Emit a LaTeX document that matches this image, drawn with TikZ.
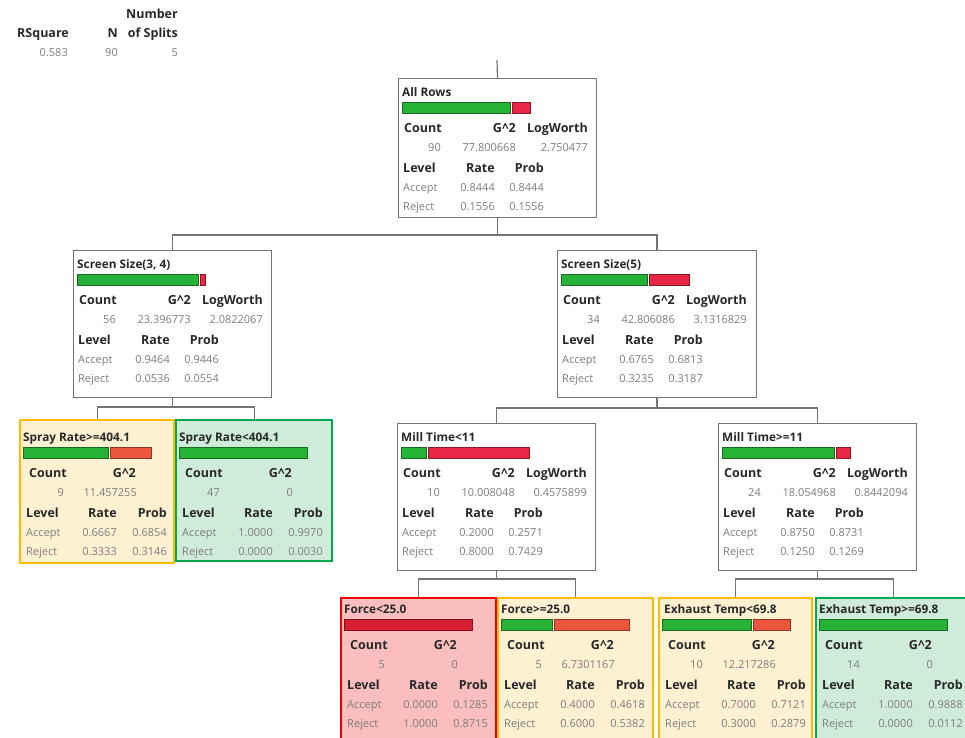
\documentclass[tikz,border=0pt]{standalone}
\usepackage{fontspec}
\setmainfont{Open Sans}

\definecolor{barGreen}{RGB}{38,178,52}
\definecolor{barRed}{RGB}{232,38,70}
\definecolor{barTomato}{RGB}{236,86,60}
\definecolor{barDeepRed}{RGB}{218,30,52}
\definecolor{headInk}{RGB}{40,40,40}
\definecolor{valInk}{RGB}{125,125,125}
\definecolor{treeGray}{RGB}{115,115,115}
\definecolor{warnEdge}{RGB}{255,186,0}
\definecolor{warnFill}{RGB}{253,241,210}
\definecolor{goodEdge}{RGB}{0,170,78}
\definecolor{goodFill}{RGB}{207,236,219}
\definecolor{badEdge}{RGB}{238,0,0}
\definecolor{badFill}{RGB}{250,190,190}

\tikzset{
  splitbox/.style={draw=treeGray, fill=white, line width=1pt, inner sep=0pt, anchor=north west},
  leafwarn/.style={splitbox, draw=warnEdge, fill=warnFill, line width=2.2pt},
  leafgood/.style={splitbox, draw=goodEdge, fill=goodFill, line width=2.2pt},
  leafbad/.style={splitbox, draw=badEdge, fill=badFill, line width=2.2pt},
  title/.style={font=\bfseries\fontsize{11.8}{13}\selectfont, text=headInk, inner sep=0pt, anchor=base west},
  head/.style={font=\bfseries\fontsize{12.5}{14}\selectfont, text=headInk, inner sep=0pt},
  val/.style={font=\fontsize{11}{13}\selectfont, text=valInk, inner sep=0pt},
  branch/.style={draw=treeGray, line width=1.2pt},
}

% bar of the accept/reject split: [red colour]{green share}
\newcommand{\splitbar}[2][barRed]{%
  \pgfmathsetmacro{\greenw}{128*#2}%
  \pgfmathsetmacro{\redx}{#2>0 ? 4+\greenw+2 : 4}%
  \ifdim #2pt>0pt \filldraw[fill=barGreen, draw=barGreen!60!black, line width=0.6pt] (4,24) rectangle ({4+\greenw},35);\fi
  \ifdim #2pt<1pt \filldraw[fill=#1, draw=#1!60!black, line width=0.6pt] (\redx,24) rectangle (132,35);\fi
}

% level rows: level x, rate x, prob x, then the four values
\newcommand{\levelrows}[7]{%
  \node[head, anchor=base west] at (#1,94) {Level};
  \node[head, anchor=base east] at (#2,94) {Rate};
  \node[head, anchor=base east] at (#3,94) {Prob};
  \node[val, anchor=base west] at (#1,113) {Accept};
  \node[val, anchor=base east] at (#2,113) {#4};
  \node[val, anchor=base east] at (#3,113) {#5};
  \node[val, anchor=base west] at (#1,132) {Reject};
  \node[val, anchor=base east] at (#2,132) {#6};
  \node[val, anchor=base east] at (#3,132) {#7};
}

\newcommand{\splitrows}[7]{%
  \node[head, anchor=base west] at (6,54) {Count};
  \node[head, anchor=base east] at (118,54) {G\textasciicircum 2};
  \node[head, anchor=base east] at (190,54) {LogWorth};
  \node[val, anchor=base east] at (43,73) {#1};
  \node[val, anchor=base east] at (118,73) {#2};
  \node[val, anchor=base east] at (190,73) {#3};
  \levelrows{5}{97}{146}{#4}{#5}{#6}{#7}
}

\newcommand{\leafrows}[6]{%
  \node[head, anchor=base west] at (10,54) {Count};
  \node[head, anchor=base east] at (117,54) {G\textasciicircum 2};
  \node[val, anchor=base east] at (45,73) {#1};
  \node[val, anchor=base east] at (118,73) {#2};
  \levelrows{7}{98}{148}{#3}{#4}{#5}{#6}
}

\begin{document}
\begin{tikzpicture}[x=1pt, y=-1pt]
    \useasboundingbox (0,0) rectangle (965,737);

    % summary of the fit
    \node[head, anchor=base west] (rsqlabel) at (17,37) {RSquare};
    \node[head, anchor=base east] (nlabel) at (118,37) {N};
    \node[head, anchor=base east] (splitlabel) at (178,18) {Number};
    \node[head, anchor=base east] (splitlabelb) at (178,37) {of Splits};
    \node[val, anchor=base east] (rsqval) at (68,56) {0.583};
    \node[val, anchor=base east] (nval) at (118,56) {90};
    \node[val, anchor=base east] (splitval) at (178,56) {5};

    % split boxes
    \node[splitbox, minimum width=198pt, minimum height=139pt] (root) at (398,78) {};
    \node[splitbox, minimum width=198pt, minimum height=147pt] (ss34) at (73,250) {};
    \node[splitbox, minimum width=199pt, minimum height=147pt] (ss5) at (557,250) {};
    \node[splitbox, minimum width=198pt, minimum height=147pt] (milllo) at (397,423) {};
    \node[splitbox, minimum width=198pt, minimum height=147pt] (millhi) at (718,423) {};

    % leaves
    \node[leafwarn, minimum width=154pt, minimum height=143pt] (sprayhi) at (19,419) {};
    \node[leafgood, minimum width=156pt, minimum height=141pt] (spraylo) at (175,419) {};
    \node[leafbad,  minimum width=155pt, minimum height=148pt] (forcelo) at (340,597) {};
    \node[leafwarn, minimum width=155pt, minimum height=148pt] (forcehi) at (497,597) {};
    \node[leafwarn, minimum width=153pt, minimum height=148pt] (exhlo) at (658,597) {};
    \node[leafgood, minimum width=155pt, minimum height=148pt] (exhhi) at (815,597) {};

    % connectors
    \coordinate (treetop) at (497,60);
    \draw[branch] (treetop) -- (root.north);
    \draw[branch] (root.south) -- ++(0,17) coordinate (rootfork) -| (ss34.north);
    \draw[branch] (rootfork) -| (ss5.north);
    \draw[branch] (ss34.south) -- ++(0,9) coordinate (ss34fork) -| (sprayhi.north);
    \draw[branch] (ss34fork) -| (spraylo.north);
    \draw[branch] (ss5.south) -- ++(0,10) coordinate (ss5fork) -| (milllo.north);
    \draw[branch] (ss5fork) -| (millhi.north);
    \draw[branch] (milllo.south) -- ++(0,8) coordinate (millofork) -| (forcelo.north);
    \draw[branch] (millofork) -| (forcehi.north);
    \draw[branch] (millhi.south) -- ++(0,8) coordinate (millhifork) -| (exhlo.north);
    \draw[branch] (millhifork) -| (exhhi.north);

    % box contents
    \begin{scope}[shift={(root.north west)}]
        \node[title] at (4,18) {All Rows};
        \splitbar{0.8444}
        \splitrows{90}{77.800668}{2.750477}{0.8444}{0.8444}{0.1556}{0.1556}
    \end{scope}
    \begin{scope}[shift={(ss34.north west)}]
        \node[title] at (4,18) {Screen Size(3, 4)};
        \splitbar{0.9464}
        \splitrows{56}{23.396773}{2.0822067}{0.9464}{0.9446}{0.0536}{0.0554}
    \end{scope}
    \begin{scope}[shift={(ss5.north west)}]
        \node[title] at (4,18) {Screen Size(5)};
        \splitbar{0.6765}
        \splitrows{34}{42.806086}{3.1316829}{0.6765}{0.6813}{0.3235}{0.3187}
    \end{scope}
    \begin{scope}[shift={(milllo.north west)}]
        \node[title] at (4,18) {Mill Time<11};
        \splitbar{0.2}
        \splitrows{10}{10.008048}{0.4575899}{0.2000}{0.2571}{0.8000}{0.7429}
    \end{scope}
    \begin{scope}[shift={(millhi.north west)}]
        \node[title] at (4,18) {Mill Time>=11};
        \splitbar{0.875}
        \splitrows{24}{18.054968}{0.8442094}{0.8750}{0.8731}{0.1250}{0.1269}
    \end{scope}
    \begin{scope}[shift={(sprayhi.north west)}, yshift=-4pt]
        \node[title] at (4,18) {Spray Rate>=404.1};
        \splitbar[barTomato]{0.6667}
        \leafrows{9}{11.457255}{0.6667}{0.6854}{0.3333}{0.3146}
    \end{scope}
    \begin{scope}[shift={(spraylo.north west)}, yshift=-4pt]
        \node[title] at (4,18) {Spray Rate<404.1};
        \splitbar{1}
        \leafrows{47}{0}{1.0000}{0.9970}{0.0000}{0.0030}
    \end{scope}
    \begin{scope}[shift={(forcelo.north west)}, yshift=1.5pt]
        \node[title] at (4,18) {Force<25.0};
        \splitbar[barDeepRed]{0}
        \leafrows{5}{0}{0.0000}{0.1285}{1.0000}{0.8715}
    \end{scope}
    \begin{scope}[shift={(forcehi.north west)}, yshift=1.5pt]
        \node[title] at (4,18) {Force>=25.0};
        \splitbar[barTomato]{0.4}
        \leafrows{5}{6.7301167}{0.4000}{0.4618}{0.6000}{0.5382}
    \end{scope}
    \begin{scope}[shift={(exhlo.north west)}, yshift=1.5pt]
        \node[title] at (6,18) {Exhaust Temp<69.8};
        \splitbar[barTomato]{0.7}
        \leafrows{10}{12.217286}{0.7000}{0.7121}{0.3000}{0.2879}
    \end{scope}
    \begin{scope}[shift={(exhhi.north west)}, yshift=1.5pt]
        \node[title] at (4,18) {Exhaust Temp>=69.8};
        \splitbar{1}
        \leafrows{14}{0}{1.0000}{0.9888}{0.0000}{0.0112}
    \end{scope}
\end{tikzpicture}
\end{document}
